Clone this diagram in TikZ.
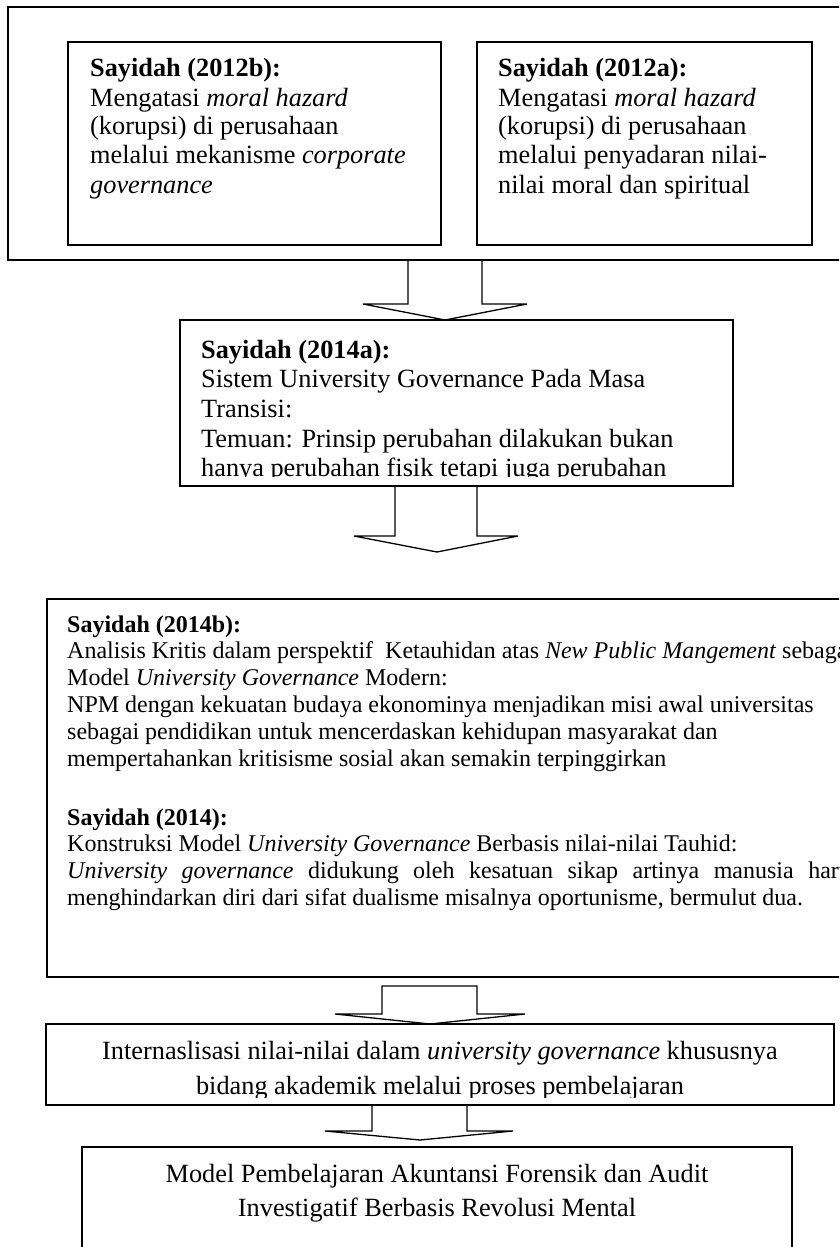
\documentclass[tikz,border=0pt]{standalone}
\usepackage{fontspec}
\setmainfont{Liberation Serif}
% stacked lines with a fixed baseline distance; the box baseline is the first line
\newcommand{\linestack}[2]{\vtop{\baselineskip=#1\lineskiplimit=-\maxdimen\lineskip=0pt #2}}
\begin{document}
\begin{tikzpicture}[x=1pt,y=-1pt,
  frame/.style={draw, rectangle, inner sep=0pt, outer sep=0pt, anchor=north west, line width=#1},
  frame/.default=1.3pt,
  blockarrow/.style={draw, line width=1.3pt, line join=miter},
  bigtxt/.style={inner sep=0pt, font=\fontsize{26.3}{29}\selectfont},
  smalltxt/.style={inner sep=0pt, font=\fontsize{24}{26.6}\selectfont}]
\useasboundingbox (0,0) rectangle (839,1247);
\clip (0,0) rectangle (839,1247);

% frames
\node[frame=2pt, minimum width=850pt, minimum height=253pt] (outer) at (8,7) {};
\node[frame, minimum width=373pt, minimum height=203pt] (b12b) at (68,42) {};
\node[frame, minimum width=335pt, minimum height=203pt] (b12a) at (477,42) {};
\node[frame, minimum width=553pt, minimum height=166pt] (b14a) at (180,320) {};
\node[frame=2pt, minimum width=850pt, minimum height=378pt] (b14b) at (47,599) {};
\node[frame=1.6pt, minimum width=788pt, minimum height=81pt] (bint) at (46,1024) {};
\node[frame=1.4pt, minimum width=710pt, minimum height=130pt] (bfin) at (82,1147) {};

% texts of the two 2012 studies
\node[bigtxt, anchor=base west] (t12b) at (90,77) {\linestack{29pt}{%
  \hbox{\textbf{Sayidah (2012b):}}
  \hbox{Mengatasi \textit{moral hazard}}
  \hbox{(korupsi) di perusahaan}
  \hbox{melalui mekanisme \textit{corporate}}
  \hbox{\textit{governance}}}};
\node[bigtxt, anchor=base west] (t12a) at (498,77) {\linestack{29pt}{%
  \hbox{\textbf{Sayidah (2012a):}}
  \hbox{Mengatasi \textit{moral hazard}}
  \hbox{(korupsi) di perusahaan}
  \hbox{melalui penyadaran nilai-}
  \hbox{nilai moral dan spiritual}}};

% 2014a, text cut by the frame
\begin{scope}
  \clip (180,320) rectangle (733,476);
  \node[bigtxt, anchor=base west] (t14a) at (201,358) {\linestack{29.7pt}{%
    \hbox{\textbf{Sayidah (2014a):}}
    \hbox{Sistem University Governance Pada Masa}
    \hbox{Transisi:}
    \hbox{Temuan: Prinsip perubahan dilakukan bukan}
    \hbox{hanya perubahan fisik tetapi juga perubahan}}};
\end{scope}

% 2014b and 2014
\node[smalltxt, anchor=base west] (t14b) at (67,632) {\linestack{26.8pt}{%
  \hbox{\textbf{Sayidah (2014b):}}
  \hbox{Analisis Kritis dalam perspektif\ \ Ketauhidan atas \textit{New Public Mangement} sebagai}
  \hbox{Model \textit{University Governance} Modern:}
  \hbox{NPM dengan kekuatan budaya ekonominya menjadikan misi awal universitas}
  \hbox{sebagai pendidikan untuk mencerdaskan kehidupan masyarakat dan}
  \hbox{mempertahankan kritisisme sosial akan semakin terpinggirkan}}};
\node[smalltxt, anchor=base west] (t14) at (67,825) {\linestack{26.7pt}{%
  \hbox{\textbf{Sayidah (2014):}}
  \hbox{Konstruksi Model \textit{University Governance} Berbasis nilai-nilai Tauhid:}
  \hbox to 793pt{\textit{University}\hfill\textit{governance}\hfill didukung\hfill oleh\hfill kesatuan\hfill sikap\hfill artinya\hfill manusia\hfill harus}
  \hbox{menghindarkan diri dari sifat dualisme misalnya oportunisme, bermulut dua.}}};

% internalisation box, text cut by the frame
\begin{scope}
  \clip (46,1024) rectangle (834,1097);
  \node[bigtxt, anchor=base] (int1) at (440,1059) {Internaslisasi nilai-nilai dalam \textit{university governance} khususnya};
  \node[bigtxt, anchor=base] (int2) at (440,1094) {bidang akademik melalui proses pembelajaran};
\end{scope}

% final model
\node[bigtxt, anchor=base] (fin1) at (437,1182) {Model Pembelajaran Akuntansi Forensik dan Audit};
\node[bigtxt, anchor=base] (fin2) at (437,1216) {Investigatif Berbasis Revolusi Mental};

% block arrows
\coordinate (tip2) at (437,552);
\coordinate (tip4) at (420,1140);
\draw[blockarrow] ([xshift=400pt]outer.south west) |- (363,304)
  -- ([xshift=265pt]b14a.north west) -- (527,304) -| ([xshift=474pt]outer.south west);
\draw[blockarrow] ([xshift=215pt]b14a.south west) |- (354,536)
  -- (tip2) -- (518,536) -| ([xshift=297pt]b14a.south west);
\draw[blockarrow] (382,1014) |- (477,986) -- (477,1014) -- (525,1014)
  -- ([xshift=384pt]bint.north west) -- (335,1014) -- cycle;
\draw[blockarrow] ([xshift=326pt]bint.south west) |- (325,1131)
  -- (tip4) -- (513,1131) -| ([xshift=421pt]bint.south west);
\end{tikzpicture}
\end{document}
